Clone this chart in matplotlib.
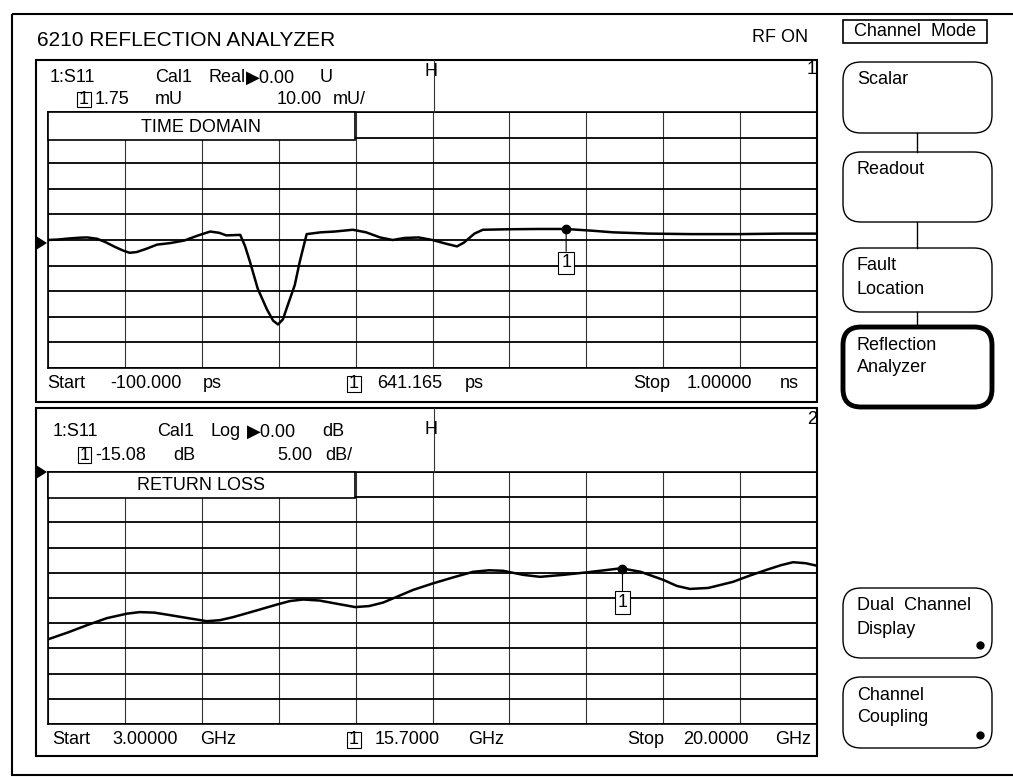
import numpy as np
import matplotlib
matplotlib.use('Agg')
import matplotlib.pyplot as plt
from matplotlib.patches import Rectangle, FancyBboxPatch, Polygon

plt.rcParams['font.family'] = ['Liberation Sans', 'DejaVu Sans']

# channel 1 - time domain, real part (mU) against time (ps)
td_time = [-100, -85, -70, -55, -44, -30, -18, -5, 8, 17, 27, 40, 56, 75, 95, 115,
           132, 145, 155, 165, 175, 182, 189, 200, 213, 222, 229, 236, 243, 253,
           260, 270, 290, 310, 336, 355, 375, 393, 410, 430, 450, 470, 485, 495,
           510, 522, 560, 600, 641, 680, 708, 760, 820, 890, 950, 1000]
td_real = [0.0, 0.2, 0.6, 0.9, 1.0, 0.5, -0.8, -2.6, -4.2, -5.0, -4.7, -3.5, -1.8,
           -1.2, -0.2, 1.8, 3.3, 2.8, 1.8, 1.9, 2.0, -2.5, -8.6, -19.0, -27.0, -31.5,
           -33.0, -31.0, -25.4, -17.6, -8.6, 2.3, 3.0, 3.3, 4.0, 3.0, 1.0, 0.0, 0.8,
           1.0, 0.0, -1.5, -2.5, -1.0, 2.5, 4.0, 4.2, 4.3, 4.3, 3.6, 3.0, 2.5, 2.3,
           2.3, 2.5, 2.5]
td_marker = 641.165

# channel 2 - return loss (dB) against frequency (GHz)
rl_freq = [3.0, 3.45, 3.86, 4.3, 4.75, 5.03, 5.35, 5.63, 6.1, 6.51, 6.8, 7.09, 7.6,
           8.06, 8.35, 8.64, 9.0, 9.3, 9.79, 10.1, 10.41, 10.78, 11.07, 11.51, 12.0,
           12.4, 12.75, 13.06, 13.5, 13.88, 14.4, 14.92, 15.3, 15.67, 16.1, 16.6,
           16.9, 17.19, 17.6, 18.14, 18.5, 18.89, 19.2, 19.47, 19.75, 20.0]
rl_db = [-33.2, -31.8, -30.4, -29.0, -28.1, -27.8, -27.9, -28.3, -29.0, -29.6, -29.4,
         -28.8, -27.5, -26.3, -25.6, -25.3, -25.5, -26.0, -26.8, -26.6, -25.9, -24.5,
         -23.4, -22.1, -20.8, -19.8, -19.5, -19.6, -20.4, -20.8, -20.4, -19.9, -19.5,
         -19.1, -19.8, -21.4, -22.6, -23.2, -23.0, -21.8, -20.6, -19.4, -18.5, -17.9,
         -18.1, -18.6]
rl_marker = 15.7

W, H = 1013, 777
fig = plt.figure(figsize=(W / 100, H / 100), dpi=100)


def px_axes(x0, y0, x1, y1, **kw):
    return fig.add_axes([x0 / W, 1 - y1 / H, (x1 - x0) / W, (y1 - y0) / H], **kw)


def grid_axes(y0, y1, xlim, ylim):
    ax = px_axes(48, y0, 817, y1)
    ax.set_xlim(xlim)
    ax.set_ylim(ylim)
    ax.set_xticks(np.linspace(xlim[0], xlim[1], 11))
    ax.set_yticks(np.linspace(ylim[0], ylim[1], 11))
    ax.tick_params(length=0, labelleft=False, labelbottom=False)
    ax.xaxis.grid(True, color='#333333', lw=0.8)
    ax.yaxis.grid(True, color='black', lw=1.3)
    for s in ax.spines.values():
        s.set_linewidth(1.2)
    return ax


def put_marker(ax, xs, ys, xm):
    ym = np.interp(xm, xs, ys)
    ax.plot([xm], [ym], 'o', color='black', ms=6, zorder=4)
    ax.annotate('1', (xm, ym), xytext=(0, -34), textcoords='offset pixels',
                ha='center', va='center', fontsize=13, zorder=4,
                bbox=dict(boxstyle='square,pad=0.15', fc='white', ec='black', lw=0.8),
                arrowprops=dict(arrowstyle='-', lw=0.8, color='black',
                                shrinkA=0, shrinkB=0))


ax1 = grid_axes(112, 368, (-100, 1000), (-50, 50))
ax1.plot(td_time, td_real, color='black', lw=1.8)
put_marker(ax1, td_time, td_real, td_marker)

ax2 = grid_axes(472, 724, (3.0, 20.0), (-50, 0))
ax2.plot(rl_freq, rl_db, color='black', lw=1.8)
put_marker(ax2, rl_freq, rl_db, rl_marker)

# overlay for the instrument screen furniture, in pixel units
ov = fig.add_axes([0, 0, 1, 1], zorder=5)
ov.set_xlim(0, W)
ov.set_ylim(H, 0)
ov.axis('off')


def t(x, y, s, size=13, **kw):
    ov.text(x, y, s, fontsize=size, va='center', **kw)


def box(x0, y0, x1, y1, lw=1.2, fc='none'):
    ov.add_patch(Rectangle((x0, y0), x1 - x0, y1 - y0, fill=fc != 'none',
                           fc=fc, ec='black', lw=lw))


def boxed_one(x0, y0, x1, y1):
    box(x0, y0, x1, y1, lw=0.8)
    t((x0 + x1) / 2, (y0 + y1) / 2, '1', ha='center')


# outer frame
box(12, 14, 1030, 775, lw=1.5)
t(37, 41, '6210 REFLECTION ANALYZER', size=15)
t(752, 37, 'RF ON', size=13)

# panel 1
box(36, 60, 817, 402, lw=1.5)
ov.plot([434, 434], [60, 112], color='#333333', lw=0.8)
t(50, 78, '1:S11')
t(155, 78, 'Cal1')
t(208, 78, 'Real')
t(246, 78, '\u25b60.00')
t(320, 78, 'U')
t(425, 71, 'H')
t(812, 70, '1', ha='center')
boxed_one(77, 92, 91, 107)
t(95, 100, '1.75')
t(155, 100, 'mU')
t(277, 100, '10.00')
t(333, 100, 'mU/')
box(48, 112, 355, 140, lw=1.2, fc='white')
t(201, 127, 'TIME DOMAIN', ha='center')
ov.add_patch(Polygon([[36, 236], [47, 243], [36, 250]], closed=True, fc='black'))
t(47, 384, 'Start')
t(110, 384, '-100.000')
t(203, 384, 'ps')
boxed_one(347, 376, 361, 392)
t(377, 384, '641.165')
t(465, 384, 'ps')
t(633, 384, 'Stop')
t(687, 384, '1.00000')
t(780, 384, 'ns')

# panel 2
box(36, 408, 817, 756, lw=1.5)
ov.plot([434, 434], [408, 472], color='#333333', lw=0.8)
t(53, 432, '1:S11')
t(157, 432, 'Cal1')
t(210, 432, 'Log')
t(247, 432, '\u25b60.00')
t(322, 432, 'dB')
t(425, 430, 'H')
t(812, 420, '2', ha='center')
boxed_one(78, 447, 91, 463)
t(95, 455, '-15.08')
t(173, 455, 'dB')
t(277, 455, '5.00')
t(325, 455, 'dB/')
box(48, 472, 355, 498, lw=1.2, fc='white')
t(201, 485, 'RETURN LOSS', ha='center')
ov.add_patch(Polygon([[36, 465], [47, 472], [36, 479]], closed=True, fc='black'))
t(52, 740, 'Start')
t(112, 740, '3.00000')
t(200, 740, 'GHz')
boxed_one(347, 732, 361, 748)
t(375, 740, '15.7000')
t(468, 740, 'GHz')
t(627, 740, 'Stop')
t(683, 740, '20.0000')
t(775, 740, 'GHz')

# soft keys
box(843, 20, 987, 43, lw=1.2)
t(915, 31, 'Channel  Mode', ha='center')


def key(y0, y1, lines, lw=1.0, dot=False):
    r = 18
    ov.add_patch(FancyBboxPatch((843 + r, y0 + r), 149 - 2 * r, (y1 - y0) - 2 * r,
                                boxstyle='round,pad=%d' % r, fc='white',
                                ec='black', lw=lw))
    for i, s in enumerate(lines):
        t(857, y0 + 18 + 23 * i, s)
    if dot:
        ov.plot([980], [y1 - 13], 'o', color='black', ms=5)


for ya, yb in [(133, 152), (222, 248), (312, 326)]:
    ov.plot([917, 917], [ya, yb], color='black', lw=1.0)
key(62, 133, ['Scalar'])
key(152, 222, ['Readout'])
key(248, 312, ['Fault', 'Location'])
key(327, 407, ['Reflection', 'Analyzer'], lw=3.5)
key(588, 658, ['Dual  Channel', 'Display'], dot=True)
key(677, 748, ['Channel', 'Coupling'], dot=True)

fig.savefig('out.png', dpi=100, facecolor='white')
